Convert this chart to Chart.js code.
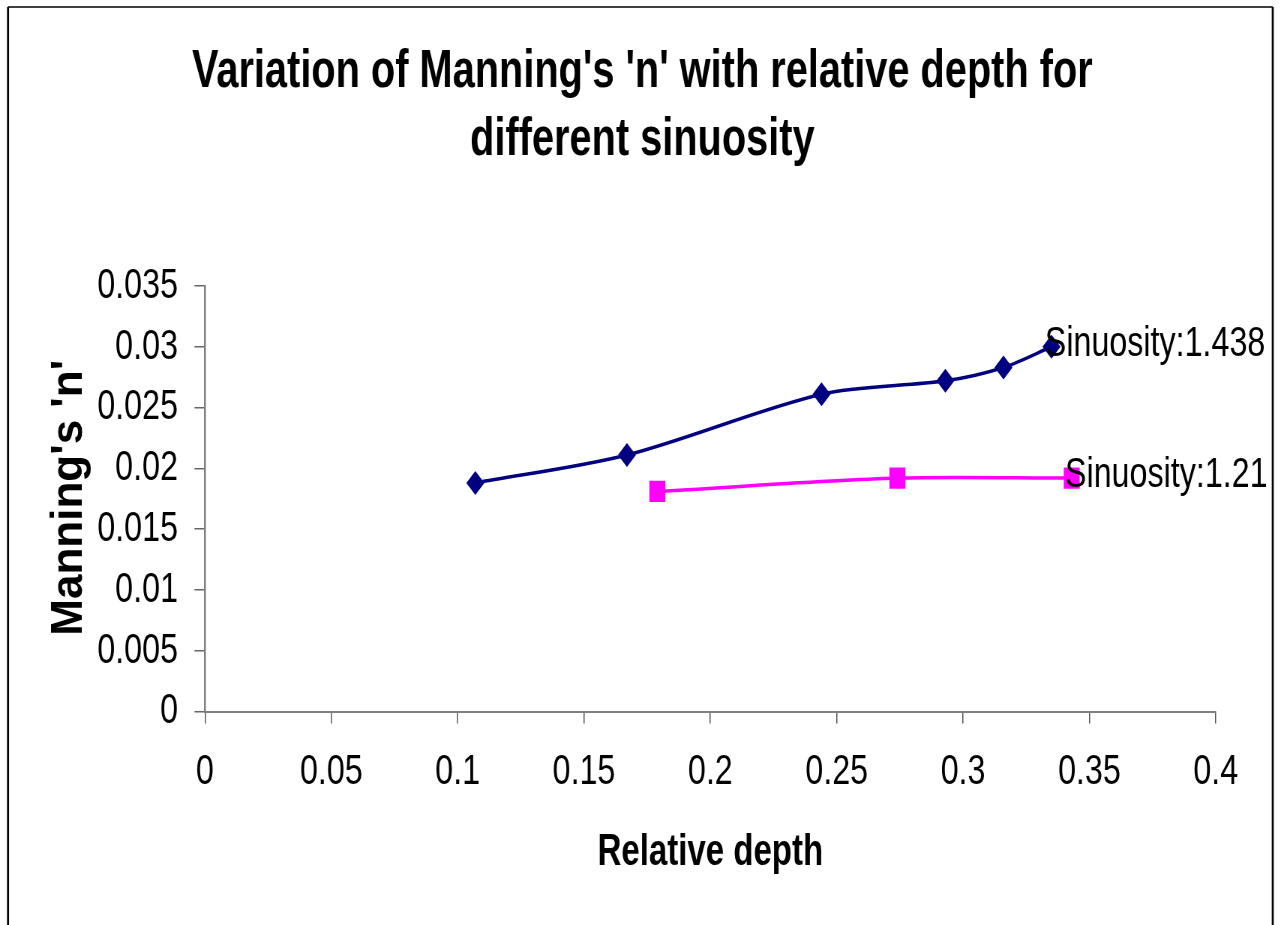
<!DOCTYPE html>
<html>
<head>
<meta charset="utf-8">
<title>Manning's n vs relative depth</title>
<script src="https://cdn.jsdelivr.net/npm/chart.js@4.4.1/dist/chart.umd.min.js"></script>
<style>
  html, body { margin: 0; padding: 0; background: #fff; overflow: hidden; }
  /* the source picture is squeezed sideways, so the canvas is drawn wide and squeezed the same way */
  #chart { display: block; transform: scaleX(0.75); transform-origin: 0 0; }
</style>
</head>
<body>
<canvas id="chart" width="1713" height="925"></canvas>
<script>
const titleLines = ["Variation of Manning's 'n' with relative depth for", "different sinuosity"];
const xTitle = "Relative depth";
const yTitle = "Manning's 'n'";
const seriesNames = ["Sinuosity:1.438", "Sinuosity:1.21"];

const depth1438 = [0.107, 0.167, 0.244, 0.293, 0.316, 0.335];
const n1438 = [0.0188, 0.0211, 0.0261, 0.0272, 0.0283, 0.0300];
const depth121 = [0.179, 0.274, 0.343];
const n121 = [0.0181, 0.0192, 0.0192];

const xTicks = [0, 0.05, 0.1, 0.15, 0.2, 0.25, 0.3, 0.35, 0.4];
const yTicks = [0, 0.005, 0.01, 0.015, 0.02, 0.025, 0.03, 0.035];

const squeeze = 0.75;
const family = '"Liberation Sans", Arial, sans-serif';
Chart.defaults.font.family = family;
Chart.defaults.color = '#000';

function points(xs, ys) {
  return xs.map((x, i) => ({ x: x, y: ys[i] }));
}

// outer frame of the chart object
const frame = {
  id: 'frame',
  beforeDraw(chart) {
    const ctx = chart.ctx;
    ctx.save();
    ctx.fillStyle = '#fff';
    ctx.fillRect(0, 0, chart.width, chart.height);
    ctx.strokeStyle = '#000';
    ctx.lineWidth = 2.7;
    ctx.beginPath();
    ctx.moveTo(10.7, 7);
    ctx.lineTo(10.7, chart.height);
    ctx.moveTo(1697, 7);
    ctx.lineTo(1697, chart.height);
    ctx.stroke();
    ctx.lineWidth = 1.6;
    ctx.beginPath();
    ctx.moveTo(10.7, 7);
    ctx.lineTo(1697, 7);
    ctx.stroke();
    ctx.restore();
  }
};

// rotated y title, un-squeezed like in the picture
const yAxisTitle = {
  id: 'yAxisTitle',
  afterDraw(chart) {
    const ctx = chart.ctx;
    const area = chart.chartArea;
    ctx.save();
    ctx.translate(93, (area.top + area.bottom) / 2 - 1);
    ctx.scale(1 / squeeze, 1);
    ctx.rotate(-Math.PI / 2);
    ctx.font = 'bold 44px ' + family;
    ctx.fillStyle = '#000';
    ctx.textAlign = 'center';
    ctx.textBaseline = 'middle';
    ctx.fillText(yTitle, 0, 0);
    ctx.restore();
  }
};

// series name next to the last point of each line
const endLabels = {
  id: 'endLabels',
  afterDatasetsDraw(chart) {
    const ctx = chart.ctx;
    ctx.save();
    ctx.font = '43px ' + family;
    ctx.fillStyle = '#000';
    ctx.textAlign = 'left';
    ctx.textBaseline = 'middle';
    chart.data.datasets.forEach((ds, i) => {
      const pts = chart.getDatasetMeta(i).data;
      const last = pts[pts.length - 1];
      ctx.fillText(seriesNames[i], last.x - 9, last.y - 3);
    });
    ctx.restore();
  }
};

const ctx = document.getElementById('chart').getContext('2d');
new Chart(ctx, {
  type: 'scatter',
  data: {
    datasets: [{
      label: seriesNames[0],
      data: points(depth1438, n1438),
      showLine: true,
      tension: 0.3,
      borderColor: '#000080',
      backgroundColor: '#000080',
      borderWidth: 3.5,
      pointStyle: 'rectRot',
      pointRadius: 12,
      pointBorderWidth: 0
    }, {
      label: seriesNames[1],
      data: points(depth121, n121),
      showLine: true,
      tension: 0.3,
      borderColor: '#ff00ff',
      backgroundColor: '#ff00ff',
      borderWidth: 3.5,
      pointStyle: 'rect',
      pointRadius: 15,
      pointBorderWidth: 0
    }]
  },
  options: {
    responsive: false,
    animation: false,
    devicePixelRatio: 1,
    layout: { padding: { left: 0, right: 0, top: 0, bottom: 0 } },
    plugins: {
      legend: { display: false },
      tooltip: { enabled: false },
      title: {
        display: true,
        text: titleLines,
        color: '#000',
        font: { size: 53, weight: 'bold', lineHeight: 68 / 53 },
        padding: { top: 38, bottom: 112 }
      }
    },
    scales: {
      x: {
        type: 'linear',
        min: 0,
        max: 0.4,
        afterBuildTicks: s => { s.ticks = xTicks.map(v => ({ value: v })); },
        afterFit: s => { s.height = 213.5; },
        grid: { drawOnChartArea: false, tickLength: 12, color: '#555', lineWidth: 1.5 },
        border: { color: '#808080', width: 2 },
        ticks: {
          padding: 23,
          autoSkip: false,
          maxRotation: 0,
          color: '#000',
          font: { size: 43 },
          callback: v => String(v)
        },
        title: {
          display: true,
          text: xTitle,
          color: '#000',
          font: { size: 44, weight: 'bold' },
          padding: { top: 0, bottom: 46 }
        }
      },
      y: {
        type: 'linear',
        min: 0,
        max: 0.035,
        afterBuildTicks: s => { s.ticks = yTicks.map(v => ({ value: v })); },
        afterFit: s => { s.width = 273.3; },
        grid: { drawOnChartArea: false, tickLength: 14, color: '#666', lineWidth: 1.5 },
        border: { color: '#808080', width: 2.5 },
        ticks: {
          padding: 22,
          color: '#000',
          font: { size: 43 },
          callback: v => String(v)
        }
      },
      // empty axis that only holds the space right of the plot
      spacer: {
        type: 'linear',
        position: 'right',
        afterFit: s => { s.width = 92; },
        grid: { display: false },
        border: { display: false },
        ticks: { display: false }
      }
    }
  },
  plugins: [frame, yAxisTitle, endLabels]
});
</script>
</body>
</html>
